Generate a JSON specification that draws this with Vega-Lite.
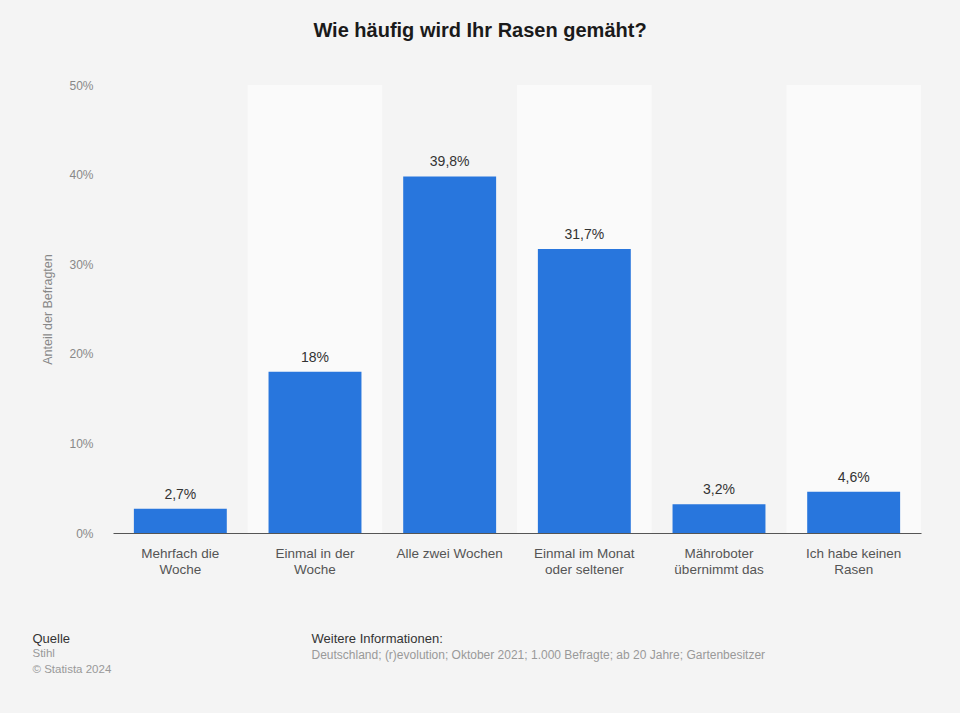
{
  "$schema": "https://vega.github.io/schema/vega-lite/v6.json",
  "autosize": {"type": "none"},
  "width": 808,
  "height": 448,
  "padding": {"left": 113, "top": 85, "right": 39, "bottom": 180},
  "background": "#f4f4f4",
  "config": {
    "font": "Liberation Sans",
    "view": {"stroke": null},
    "locale": {"number": {"decimal": ",", "thousands": ".", "grouping": [3], "currency": ["", " €"]}}
  },
  "title": {
    "text": "Wie häufig wird Ihr Rasen gemäht?",
    "anchor": "middle",
    "frame": "group",
    "dx": -37,
    "offset": 38,
    "fontSize": 20,
    "fontWeight": "bold",
    "color": "#1a1a1a",
    "font": "Liberation Sans"
  },
  "data": {
    "values": [
      {"cat": "Mehrfach die\nWoche", "share": 0.027, "alt": false},
      {"cat": "Einmal in der\nWoche", "share": 0.18, "alt": true},
      {"cat": "Alle zwei Wochen", "share": 0.398, "alt": false},
      {"cat": "Einmal im Monat\noder seltener", "share": 0.317, "alt": true},
      {"cat": "Mähroboter\nübernimmt das", "share": 0.032, "alt": false},
      {"cat": "Ich habe keinen\nRasen", "share": 0.046, "alt": true}
    ]
  },
  "resolve": {"axis": {"x": "independent"}},
  "layer": [
    {
      "transform": [{"filter": "datum.alt"}],
      "mark": {"type": "bar", "width": {"band": 1.4493}, "fill": "#fafafa"},
      "encoding": {
        "x": {
          "field": "cat", "type": "nominal",
          "scale": {"domain": ["Mehrfach die\nWoche", "Einmal in der\nWoche", "Alle zwei Wochen", "Einmal im Monat\noder seltener", "Mähroboter\nübernimmt das", "Ich habe keinen\nRasen"], "paddingInner": 0.31, "paddingOuter": 0.155},
          "axis": {
            "orient": "bottom", "labels": false, "ticks": false, "domain": false, "grid": false,
            "title": "Quelle", "titleX": -81, "titleY": 109, "titleAlign": "left", "titleAnchor": "start",
            "titleBaseline": "alphabetic", "titleFontSize": 13, "titleFontWeight": "normal", "titleColor": "#333333"
          }
        },
        "y": {"datum": 0.5, "type": "quantitative"},
        "y2": {"datum": 0}
      }
    },
    {
      "mark": {"type": "bar", "color": "#2876dd"},
      "encoding": {
        "x": {
          "field": "cat", "type": "nominal",
          "scale": {"domain": ["Mehrfach die\nWoche", "Einmal in der\nWoche", "Alle zwei Wochen", "Einmal im Monat\noder seltener", "Mähroboter\nübernimmt das", "Ich habe keinen\nRasen"], "paddingInner": 0.31, "paddingOuter": 0.155},
          "axis": {
            "orient": "bottom", "title": null, "labelAngle": 0, "ticks": false,
            "domainColor": "#555555", "domainWidth": 1.2,
            "labelExpr": "split(datum.label, '\\n')",
            "labelFontSize": 13.5, "labelColor": "#555555", "labelPadding": 13, "labelLineHeight": 16
          }
        },
        "y": {
          "field": "share", "type": "quantitative",
          "scale": {"domain": [0, 0.5]},
          "axis": {
            "values": [0, 0.1, 0.2, 0.3, 0.4, 0.5],
            "format": ".0%",
            "title": "Anteil der Befragten",
            "titleFontSize": 12.5, "titleFontWeight": "normal", "titleColor": "#888888", "titlePadding": 14,
            "labelFontSize": 12, "labelColor": "#888888", "labelPadding": 20,
            "domain": false, "ticks": false,
            "gridColor": "#cccccc", "gridDash": [1, 2], "gridWidth": 1
          }
        }
      }
    },
    {
      "mark": {"type": "text", "dy": -7, "fontSize": 14, "color": "#333333", "baseline": "bottom"},
      "encoding": {
        "x": {
          "field": "cat", "type": "nominal",
          "scale": {"domain": ["Mehrfach die\nWoche", "Einmal in der\nWoche", "Alle zwei Wochen", "Einmal im Monat\noder seltener", "Mähroboter\nübernimmt das", "Ich habe keinen\nRasen"], "paddingInner": 0.31, "paddingOuter": 0.155},
          "axis": {
            "orient": "bottom", "labels": false, "ticks": false, "domain": false, "grid": false,
            "title": ["Stihl", "© Statista 2024"], "titleX": -81, "titleY": 123, "titleAlign": "left", "titleAnchor": "start",
            "titleBaseline": "alphabetic", "titleFontSize": 11.5, "titleFontWeight": "normal", "titleColor": "#999999", "titleLineHeight": 16
          }
        },
        "y": {"field": "share", "type": "quantitative"},
        "text": {"field": "share", "type": "quantitative", "format": ".1~%"}
      }
    },
    {
      "transform": [{"filter": "datum.alt"}],
      "mark": {"type": "bar", "opacity": 0},
      "encoding": {
        "x": {
          "field": "cat", "type": "nominal",
          "scale": {"domain": ["Mehrfach die\nWoche", "Einmal in der\nWoche", "Alle zwei Wochen", "Einmal im Monat\noder seltener", "Mähroboter\nübernimmt das", "Ich habe keinen\nRasen"], "paddingInner": 0.31, "paddingOuter": 0.155},
          "axis": {
            "orient": "bottom", "labels": false, "ticks": false, "domain": false, "grid": false,
            "title": "Weitere Informationen:", "titleX": 198, "titleY": 109, "titleAlign": "left", "titleAnchor": "start",
            "titleBaseline": "alphabetic", "titleFontSize": 13, "titleFontWeight": "normal", "titleColor": "#333333"
          }
        },
        "y": {"datum": 0, "type": "quantitative"}
      }
    },
    {
      "transform": [{"filter": "!datum.alt"}],
      "mark": {"type": "bar", "opacity": 0},
      "encoding": {
        "x": {
          "field": "cat", "type": "nominal",
          "scale": {"domain": ["Mehrfach die\nWoche", "Einmal in der\nWoche", "Alle zwei Wochen", "Einmal im Monat\noder seltener", "Mähroboter\nübernimmt das", "Ich habe keinen\nRasen"], "paddingInner": 0.31, "paddingOuter": 0.155},
          "axis": {
            "orient": "bottom", "labels": false, "ticks": false, "domain": false, "grid": false,
            "title": "Deutschland; (r)evolution; Oktober 2021; 1.000 Befragte; ab 20 Jahre; Gartenbesitzer",
            "titleX": 198, "titleY": 125, "titleAlign": "left", "titleAnchor": "start",
            "titleBaseline": "alphabetic", "titleFontSize": 12, "titleFontWeight": "normal", "titleColor": "#999999"
          }
        },
        "y": {"datum": 0, "type": "quantitative"}
      }
    }
  ]
}
